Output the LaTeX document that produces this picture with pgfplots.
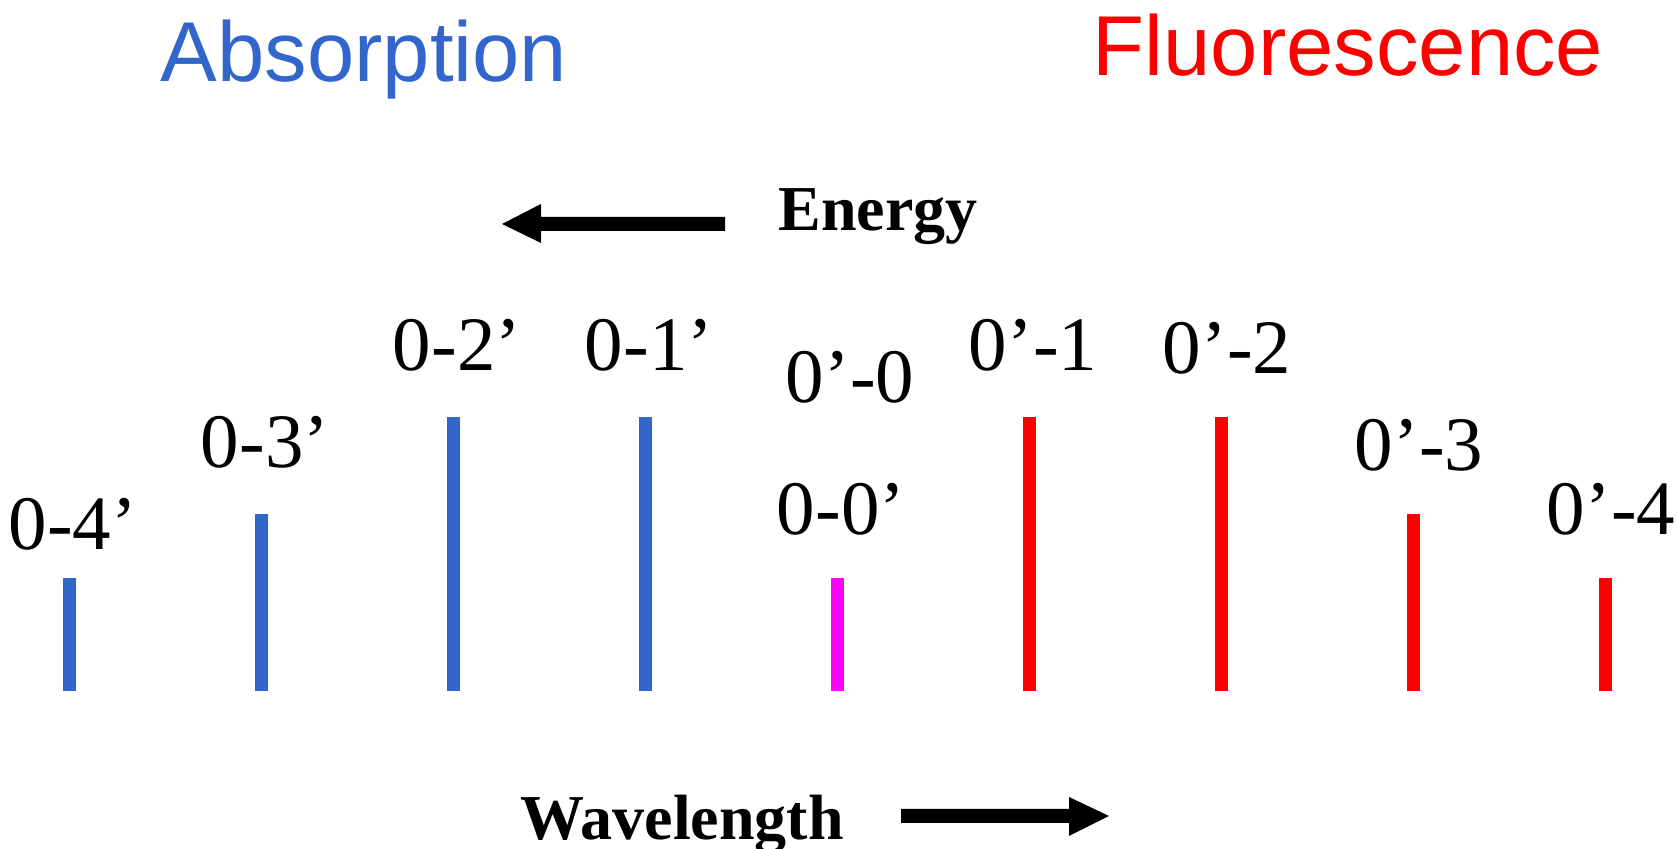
\documentclass[border=0pt]{standalone}
\usepackage{fontspec}
\setmainfont{Liberation Serif}
\newfontfamily\arial{Liberation Sans}
\usepackage{pgfplots}
\pgfplotsset{compat=1.18}
\definecolor{absblue}{HTML}{3366CC}
\definecolor{flred}{HTML}{FF0000}
\definecolor{mag}{HTML}{FF00FF}
\newcommand{\lbl}{\fontsize{38.5}{40}\selectfont}
\newcommand{\ttl}{\arial\fontsize{42.5}{44}\selectfont}
\newcommand{\axl}{\bfseries\fontsize{32}{34}\selectfont}
\begin{document}
\begin{tikzpicture}
\begin{axis}[
hide axis,
scale only axis,
width=838.5pt, height=424.5pt,
xmin=0, xmax=1677,
ymin=-158, ymax=691,
clip=false,
]
% absorption lines (0-4' ... 0-1')
\addplot[ycomb, absblue, line width=6.5pt, no marks] coordinates {
(69,113) (261,177) (453,274) (645,274)
};
% 0-0' line
\addplot[ycomb, mag, line width=6.5pt, no marks] coordinates {
(837,113)
};
% fluorescence lines (0'-1 ... 0'-4)
\addplot[ycomb, flred, line width=6.5pt, no marks] coordinates {
(1029,274) (1221,274) (1413,177) (1605,113)
};
\node[anchor=base] at (axis cs:73,141) {\lbl 0-4’};
\node[anchor=base] at (axis cs:265,223) {\lbl 0-3’};
\node[anchor=base] at (axis cs:457,320) {\lbl 0-2’};
\node[anchor=base] at (axis cs:649,320) {\lbl 0-1’};
\node[anchor=base] at (axis cs:850,288) {\lbl 0’-0};
\node[anchor=base] at (axis cs:841,156) {\lbl 0-0’};
\node[anchor=base] at (axis cs:1033,320) {\lbl 0’-1};
\node[anchor=base] at (axis cs:1227,317) {\lbl 0’-2};
\node[anchor=base] at (axis cs:1419,220) {\lbl 0’-3};
\node[anchor=base] at (axis cs:1611,156) {\lbl 0’-4};
\node[anchor=base, text=absblue] at (axis cs:364,609) {\ttl Absorption};
\node[anchor=base, text=flred] at (axis cs:1348,615) {\ttl Fluorescence};
\node[anchor=base] at (axis cs:878,460) {\axl Energy};
\node[anchor=base] at (axis cs:682,-149) {\axl Wavelength};
\fill (axis cs:725,474) -- (axis cs:541,474) -- (axis cs:541,487) -- (axis cs:502,467)
  -- (axis cs:541,448) -- (axis cs:541,460) -- (axis cs:725,460) -- cycle;
\fill (axis cs:901,-118) -- (axis cs:1069,-118) -- (axis cs:1069,-106) -- (axis cs:1109,-125)
  -- (axis cs:1069,-145) -- (axis cs:1069,-132) -- (axis cs:901,-132) -- cycle;
\coordinate (sw) at (axis cs:0,-158);
\coordinate (ne) at (axis cs:1677,691);
\end{axis}
\pgfresetboundingbox
\path (sw) rectangle (ne);
\end{tikzpicture}
\end{document}
